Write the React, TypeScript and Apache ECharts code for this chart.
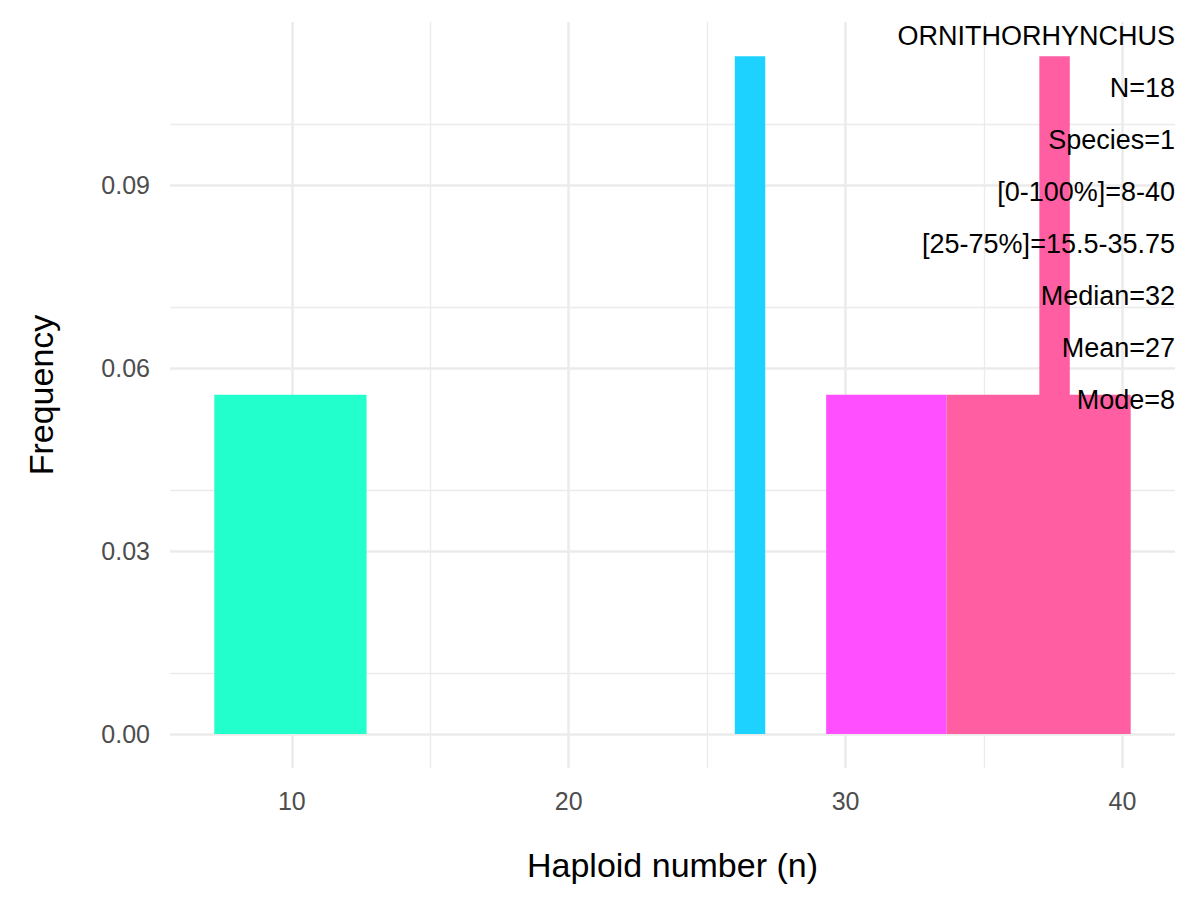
import React, { useEffect, useRef } from "react";
import * as echarts from "echarts";

const binStart = [7.2, 26.0, 29.3, 33.65, 37.0];
const binEnd = [12.7, 27.1, 33.65, 40.3, 38.1];
const freq = [0.0556, 0.1111, 0.0556, 0.0556, 0.1111];
const colors = ["#22FFCC", "#1ED2FF", "#FF4FFF", "#FF5FA2", "#FF5FA2"];
const xTicks = [10, 20, 30, 40];
const xMinor = [15, 25, 35];
const yTicks = [0, 0.03, 0.06, 0.09];
const yMinor = [0.015, 0.045, 0.075, 0.105];
const notes = [
  "ORNITHORHYNCHUS",
  "N=18",
  "Species=1",
  "[0-100%]=8-40",
  "[25-75%]=15.5-35.75",
  "Median=32",
  "Mean=27",
  "Mode=8",
];

const App: React.FC = () => {
  const ref = useRef<HTMLDivElement>(null);

  useEffect(() => {
    if (!ref.current) return;
    const chart = echarts.init(ref.current, null, { renderer: "svg" });
    const gridLine = (w: number) => ({ lineStyle: { color: "#EBEBEB", width: w, type: "solid" } });
    const markData = [
      ...xTicks.map(v => ({ xAxis: v, ...gridLine(2.5) })),
      ...xMinor.map(v => ({ xAxis: v, ...gridLine(1.3) })),
      ...yTicks.map(v => ({ yAxis: v, ...gridLine(2.5) })),
      ...yMinor.map(v => ({ yAxis: v, ...gridLine(1.3) })),
    ];
    chart.setOption({
      animation: false,
      grid: { left: 162, right: 16, top: 14, bottom: 123 },
      xAxis: {
        type: "value",
        min: 5.6,
        max: 41.9,
        axisLine: { show: false },
        axisTick: { show: false },
        splitLine: { show: false },
        axisLabel: {
          customValues: xTicks,
          color: "#4D4D4D",
          fontSize: 25,
          fontFamily: "Liberation Sans",
          margin: 20,
        },
        name: "Haploid number (n)",
        nameLocation: "middle",
        nameGap: 80,
        nameTextStyle: { fontSize: 34, color: "#000", fontFamily: "Liberation Sans" },
      },
      yAxis: {
        type: "value",
        min: -0.00556,
        max: 0.1167,
        axisLine: { show: false },
        axisTick: { show: false },
        splitLine: { show: false },
        axisLabel: {
          customValues: yTicks,
          formatter: (v: number) => v.toFixed(2),
          color: "#4D4D4D",
          fontSize: 25,
          fontFamily: "Liberation Sans",
          margin: 20,
        },
        name: "Frequency",
        nameLocation: "middle",
        nameGap: 112,
        nameTextStyle: { fontSize: 34, color: "#000", fontFamily: "Liberation Sans" },
      },
      series: [
        {
          type: "line",
          data: [],
          z: 0,
          markLine: { symbol: "none", silent: true, label: { show: false }, data: markData },
        },
        {
          type: "custom",
          z: 5,
          data: binStart.map((s, i) => [s, binEnd[i], freq[i], i]),
          renderItem: (params: any, api: any) => {
            const p0 = api.coord([api.value(0), api.value(2)]);
            const p1 = api.coord([api.value(1), 0]);
            return {
              type: "rect",
              shape: { x: p0[0], y: p0[1], width: p1[0] - p0[0], height: p1[1] - p0[1] },
              style: { fill: colors[api.value(3)] },
            };
          },
          encode: { x: [0, 1], y: 2 },
        },
      ],
      graphic: notes.map((t, i) => ({
        type: "text",
        right: 16,
        top: 14 + i * 52,
        z: 100,
        style: { text: t, fontSize: 27, fill: "#000", fontFamily: "Liberation Sans" },
      })),
    });
    return () => chart.dispose();
  }, []);

  return <div ref={ref} style={{ width: 1183, height: 883 }} />;
};

export default App;
